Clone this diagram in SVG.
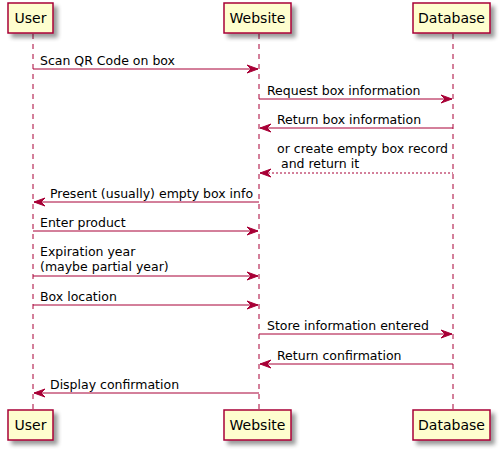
<svg xmlns="http://www.w3.org/2000/svg" width="500" height="451" viewBox="0 0 500 451">
<defs>
<filter id="sh" x="-20%" y="-20%" width="150%" height="150%"><feGaussianBlur in="SourceAlpha" stdDeviation="2"/><feOffset dx="4" dy="4"/><feComponentTransfer><feFuncA type="linear" slope="0.4"/></feComponentTransfer><feMerge><feMergeNode/><feMergeNode in="SourceGraphic"/></feMerge></filter>
</defs>
<style>
.life{stroke:#A80036;stroke-width:1;stroke-dasharray:5,5;fill:none}
.box{fill:#FEFECE;stroke:#A80036;stroke-width:1.5;filter:url(#sh)}
.pt{font-family:"DejaVu Sans",sans-serif;font-size:14px;fill:#000}
.msg{stroke:#A80036;stroke-width:1;fill:none}
.dash{stroke-dasharray:2,2}
.ah{fill:#A80036;stroke:#A80036;stroke-width:1}
.mt{font-family:"DejaVu Sans",sans-serif;font-size:12.5px;fill:#000}
</style>
<rect width="500" height="451" fill="#fff"/>
<g id="lifelines">
<line class="life" x1="33" y1="34" x2="33" y2="410"/>
<line class="life" x1="259" y1="34" x2="259" y2="410"/>
<line class="life" x1="453" y1="34" x2="453" y2="410"/>
</g>
<g id="user-top"><rect class="box" x="8" y="3" width="45" height="30"/><text class="pt" x="30.5" y="23" text-anchor="middle">User</text></g>
<g id="website-top"><rect class="box" x="224" y="3" width="67" height="30"/><text class="pt" x="257.5" y="23" text-anchor="middle">Website</text></g>
<g id="database-top"><rect class="box" x="413" y="3" width="77" height="30"/><text class="pt" x="451.5" y="23" text-anchor="middle">Database</text></g>
<g id="user-bottom"><rect class="box" x="8" y="410" width="45" height="30"/><text class="pt" x="30.5" y="430" text-anchor="middle">User</text></g>
<g id="website-bottom"><rect class="box" x="224" y="410" width="67" height="30"/><text class="pt" x="257.5" y="430" text-anchor="middle">Website</text></g>
<g id="database-bottom"><rect class="box" x="413" y="410" width="77" height="30"/><text class="pt" x="451.5" y="430" text-anchor="middle">Database</text></g>
<g id="connectors">
<line class="msg" x1="33" y1="69" x2="258" y2="69"/><polygon class="ah" points="247,65 258,69 247,73 251,69"/>
<line class="msg" x1="259" y1="99" x2="452" y2="99"/><polygon class="ah" points="441,95 452,99 441,103 445,99"/>
<line class="msg" x1="260" y1="128" x2="453" y2="128"/><polygon class="ah" points="271,124 260,128 271,132 267,128"/>
<line class="msg dash" x1="260" y1="173" x2="453" y2="173"/><polygon class="ah" points="271,169 260,173 271,177 267,173"/>
<line class="msg" x1="34" y1="202" x2="259" y2="202"/><polygon class="ah" points="45,198 34,202 45,206 41,202"/>
<line class="msg" x1="33" y1="231" x2="258" y2="231"/><polygon class="ah" points="247,227 258,231 247,235 251,231"/>
<line class="msg" x1="33" y1="276" x2="258" y2="276"/><polygon class="ah" points="247,272 258,276 247,280 251,276"/>
<line class="msg" x1="33" y1="305" x2="258" y2="305"/><polygon class="ah" points="247,301 258,305 247,309 251,305"/>
<line class="msg" x1="259" y1="334" x2="452" y2="334"/><polygon class="ah" points="441,330 452,334 441,338 445,334"/>
<line class="msg" x1="260" y1="364" x2="453" y2="364"/><polygon class="ah" points="271,360 260,364 271,368 267,364"/>
<line class="msg" x1="34" y1="393" x2="259" y2="393"/><polygon class="ah" points="45,389 34,393 45,397 41,393"/>
</g>
<g id="labels">
<text class="mt" x="40" y="65">Scan QR Code on box</text>
<text class="mt" x="267" y="95">Request box information</text>
<text class="mt" x="277" y="124">Return box information</text>
<text class="mt" x="277" y="153">or create empty box record</text>
<text class="mt" x="281" y="168">and return it</text>
<text class="mt" x="50" y="198">Present (usually) empty box info</text>
<text class="mt" x="40" y="227">Enter product</text>
<text class="mt" x="40" y="256">Expiration year</text>
<text class="mt" x="40" y="271">(maybe partial year)</text>
<text class="mt" x="40" y="301">Box location</text>
<text class="mt" x="267" y="330">Store information entered</text>
<text class="mt" x="277" y="360">Return confirmation</text>
<text class="mt" x="50" y="389">Display confirmation</text>
</g>
</svg>
